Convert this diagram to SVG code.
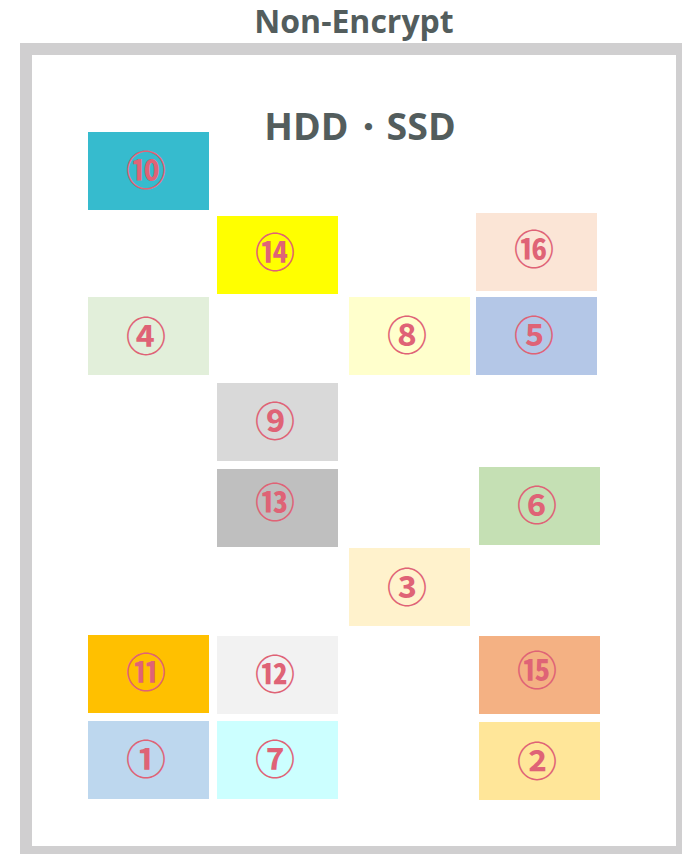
<svg xmlns="http://www.w3.org/2000/svg" width="682" height="854" viewBox="0 0 682 854">
<style>
.title{font-family:"Open Sans","Noto Sans","Liberation Sans",sans-serif;font-weight:700;fill:#535d5d;text-anchor:middle}
.lbl{font-family:"Noto Sans CJK JP","Noto Sans",sans-serif;font-weight:700;font-size:40px;fill:#df6376;text-anchor:middle;dominant-baseline:central}
</style>
<rect x="0" y="0" width="682" height="854" fill="#ffffff"/>
<rect id="frame" x="26" y="49" width="656" height="803" fill="#ffffff" stroke="#d0cfd0" stroke-width="12"/>
<text class="title" x="354" y="33" font-size="32">Non-Encrypt</text>
<text class="title" x="360" y="140" font-size="37.5">HDD・SSD</text>
<g id="connectors"></g>
<g id="n10"><rect x="88" y="132" width="121" height="78" fill="#36bbce"/><text class="lbl" x="146" y="168">⑩</text></g>
<g id="n14"><rect x="217" y="216" width="121" height="78" fill="#ffff00"/><text class="lbl" x="275" y="250">⑭</text></g>
<g id="n16"><rect x="476" y="213" width="121" height="78" fill="#fbe5d6"/><text class="lbl" x="534" y="247">⑯</text></g>
<g id="n4"><rect x="88" y="297" width="121" height="78" fill="#e2efda"/><text class="lbl" x="146" y="334">④</text></g>
<g id="n8"><rect x="349" y="297" width="121" height="78" fill="#ffffcc"/><text class="lbl" x="407" y="333">⑧</text></g>
<g id="n5"><rect x="476" y="297" width="121" height="78" fill="#b4c7e7"/><text class="lbl" x="534" y="333">⑤</text></g>
<g id="n9"><rect x="217" y="383" width="121" height="78" fill="#d9d9d9"/><text class="lbl" x="275" y="419">⑨</text></g>
<g id="n13"><rect x="217" y="469" width="121" height="78" fill="#bfbfbf"/><text class="lbl" x="275" y="500">⑬</text></g>
<g id="n6"><rect x="479" y="467" width="121" height="78" fill="#c5e0b4"/><text class="lbl" x="537" y="503">⑥</text></g>
<g id="n3"><rect x="349" y="548" width="121" height="78" fill="#fff2cc"/><text class="lbl" x="407" y="585">③</text></g>
<g id="n11"><rect x="88" y="635" width="121" height="78" fill="#ffc000"/><text class="lbl" x="146" y="670">⑪</text></g>
<g id="n12"><rect x="217" y="636" width="121" height="78" fill="#f2f2f2"/><text class="lbl" x="275" y="672">⑫</text></g>
<g id="n15"><rect x="479" y="636" width="121" height="78" fill="#f4b183"/><text class="lbl" x="537" y="668">⑮</text></g>
<g id="n1"><rect x="88" y="721" width="121" height="78" fill="#bdd7ee"/><text class="lbl" x="146" y="757">①</text></g>
<g id="n7"><rect x="217" y="721" width="121" height="78" fill="#ccffff"/><text class="lbl" x="275" y="757">⑦</text></g>
<g id="n2"><rect x="479" y="722" width="121" height="78" fill="#ffe699"/><text class="lbl" x="537" y="759">②</text></g>
</svg>
